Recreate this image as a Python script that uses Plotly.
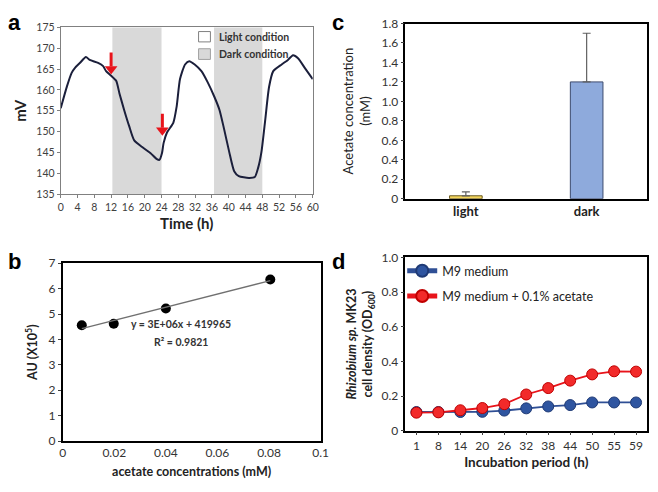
import plotly.graph_objects as go
import numpy as np

# ---------- Data ----------
# Panel a: redox potential over time
time_h = [0, 1.5, 2.6, 3.4, 4.6, 6.0, 6.9, 8.9, 10.1, 10.8, 12, 13.2, 14, 15.1, 16.3, 17.5,
          19.4, 21.4, 22.9, 23.5, 24.1, 24.5, 25.3, 26.8, 27.6, 28.4, 29.6, 30.6, 31.9,
          33.5, 35, 36.6, 37.8, 38.9, 40.1, 41.3, 42.4, 44.8, 46.2, 47, 47.8, 48.7, 49.6,
          50.6, 52.6, 54.1, 55.3, 56.5, 58.1, 60]
mv = [155.6, 160.9, 164.1, 165.3, 166.5, 167.9, 167.2, 166.5, 165.7, 164.5, 163.4, 162.2,
      159.1, 155.2, 151.3, 147.9, 146.3, 144.8, 143.4, 143.2, 144.8, 147.3, 149.8, 152.1,
      156.0, 162.6, 166.1, 166.9, 166.1, 164.5, 161.8, 158.3, 155.2, 150.6, 145.2, 140.5,
      139.3, 138.9, 139.1, 141.3, 145.2, 152.9, 160.7, 164.5, 166.1, 167.2, 168.3, 167.6,
      165.3, 162.6]
dark_periods = [(12.3, 24.0), (36.5, 48.0)]
arrow_times = [12.0, 24.2]
arrow_tips = [164.0, 149.3]
arrow_len = 5.0

# Panel b: calibration
conc_mM = [0.0074, 0.0198, 0.040, 0.0805]
au_1e5 = [4.56, 4.62, 5.22, 6.36]

# Panel c: acetate concentration
cond = ["light", "dark"]
acetate = [0.03, 1.20]
acetate_err = [0.04, 0.50]

# Panel d: growth
period = ["1", "8", "14", "20", "26", "32", "38", "44", "50", "55", "59"]
m9 = [0.108, 0.108, 0.108, 0.109, 0.116, 0.129, 0.140, 0.148, 0.163, 0.163, 0.163]
m9_err = [0.003, 0.003, 0.003, 0.003, 0.004, 0.004, 0.005, 0.005, 0.005, 0.005, 0.005]
m9ac = [0.104, 0.106, 0.118, 0.131, 0.153, 0.209, 0.246, 0.289, 0.325, 0.343, 0.341]
m9ac_err = [0.003, 0.003, 0.005, 0.005, 0.006, 0.008, 0.025, 0.012, 0.008, 0.008, 0.008]

FONT = "Lato"
W, H = 658, 492

def dx(p): return p / W
def dy(p): return 1 - p / H

fig = go.Figure()

# ---- Panel a ----
fig.add_trace(go.Scatter(x=time_h, y=mv, mode="lines", line=dict(color="#1b1f3b", width=2, shape="spline", smoothing=0.6),
                         xaxis="x", yaxis="y", showlegend=False, hoverinfo="skip"))
# red arrows: shafts + heads
for t, tip in zip(arrow_times, arrow_tips):
    fig.add_trace(go.Scatter(x=[t, t], y=[tip + arrow_len, tip + 1.6], mode="lines",
                             line=dict(color="#e8141b", width=3), xaxis="x", yaxis="y",
                             showlegend=False, hoverinfo="skip"))
fig.add_trace(go.Scatter(x=arrow_times, y=[v + 1.0 for v in arrow_tips], mode="markers",
                         marker=dict(symbol="triangle-down", size=11, color="#e8141b"),
                         xaxis="x", yaxis="y", showlegend=False, hoverinfo="skip"))

shapes = []
for s, e in dark_periods:
    shapes.append(dict(type="rect", xref="x", yref="y domain", x0=s, x1=e, y0=0, y1=1,
                       fillcolor="#d9d9d9", line=dict(width=0), layer="below"))
# legend boxes panel a
shapes.append(dict(type="rect", xref="x domain", yref="y domain", x0=0.547, x1=0.594, y0=0.975, y1=0.913,
                   fillcolor="white", line=dict(color="#808080", width=1)))
shapes.append(dict(type="rect", xref="x domain", yref="y domain", x0=0.547, x1=0.594, y0=0.872, y1=0.808,
                   fillcolor="#d9d9d9", line=dict(color="#a0a0a0", width=1)))

annotations = []
annotations.append(dict(xref="x domain", yref="y domain", x=0.62, y=0.944, yanchor="middle", text="<b>Light condition</b>",
                        showarrow=False, xanchor="left", font=dict(family=FONT, size=10.5, color="#333")))
annotations.append(dict(xref="x domain", yref="y domain", x=0.62, y=0.840, yanchor="middle", text="<b>Dark condition</b>",
                        showarrow=False, xanchor="left", font=dict(family=FONT, size=10.5, color="#333")))

# ---- Panel b ----
fig.add_trace(go.Scatter(x=conc_mM, y=au_1e5, mode="markers", marker=dict(color="black", size=10),
                         xaxis="x2", yaxis="y2", showlegend=False))
slope, icpt = np.polyfit(conc_mM, au_1e5, 1)
fx = [conc_mM[0], conc_mM[-1]]
fig.add_trace(go.Scatter(x=fx, y=[slope * v + icpt for v in fx], mode="lines",
                         line=dict(color="#707070", width=1.3), xaxis="x2", yaxis="y2", showlegend=False))
annotations.append(dict(xref="x2", yref="y2", x=0.046, y=4.6, text="<b>y = 3E+06x + 419965</b>",
                        showarrow=False, font=dict(family=FONT, size=10.5, color="#333")))
annotations.append(dict(xref="x2", yref="y2", x=0.046, y=3.92, text="<b>R² = 0.9821</b>",
                        showarrow=False, font=dict(family=FONT, size=10.5, color="#333")))

# ---- Panel c ----
fig.add_trace(go.Bar(x=cond, y=acetate, width=0.27,
                     marker=dict(color=["#f3d55b", "#8eaadc"], line=dict(color=["#6b5a20", "#3d4b6e"], width=1)),
                     error_y=dict(type="data", array=acetate_err, arrayminus=[0, 0], symmetric=False,
                                  color="#606060", thickness=1.2, width=4),
                     xaxis="x3", yaxis="y3", showlegend=False))

# ---- Panel d ----
fig.add_trace(go.Scatter(x=period, y=m9, mode="lines+markers", name="M9 medium", legendgroup="a",
                         line=dict(color="#2f4f95", width=1.8),
                         marker=dict(color="#2f55a0", size=11, line=dict(color="#1f3a75", width=1)),
                         error_y=dict(type="data", array=m9_err, color="#8090b0", thickness=1, width=2),
                         xaxis="x4", yaxis="y4"))
fig.add_trace(go.Scatter(x=period, y=m9ac, mode="lines+markers", name="M9 medium + 0.1% acetate", legendgroup="b",
                         line=dict(color="#e8141b", width=1.8),
                         marker=dict(color="#f22a2a", size=11, line=dict(color="#c00000", width=1)),
                         error_y=dict(type="data", array=m9ac_err, color="#a08080", thickness=1, width=2),
                         xaxis="x4", yaxis="y4"))

# panel letters
for txt, x, y in [("a", 3, 0), ("b", 3, 246), ("c", 333, 0), ("d", 333, 246)]:
    annotations.append(dict(xref="paper", yref="paper", x=dx(x), y=dy(y), xanchor="left", yanchor="top",
                            text=f"<b>{txt}</b>", showarrow=False,
                            font=dict(family="Liberation Sans", size=22, color="black")))

tickfont = dict(family=FONT, size=10.5, color="#404040")
tickfont2 = dict(family=FONT, size=12, color="#333")
titlefont = dict(family=FONT, size=15, color="#222")

fig.update_layout(
    width=W, height=H, margin=dict(l=0, r=0, t=0, b=0),
    paper_bgcolor="white", plot_bgcolor="white",
    shapes=shapes, annotations=annotations,
    xaxis=dict(domain=[dx(58.7), dx(315)], range=[0, 60], tickvals=list(range(0, 61, 4)),
               ticks="outside", ticklen=3, tickcolor="#808080", showgrid=False, zeroline=False,
               showline=True, linecolor="#808080", linewidth=1, mirror=True, tickfont=tickfont,
               title=dict(text="<b>Time (h)</b>", font=titlefont, standoff=6), anchor="y"),
    yaxis=dict(domain=[dy(192), dy(20)], range=[135, 175], tickvals=list(range(135, 176, 5)),
               ticks="outside", ticklen=3, tickcolor="#808080", showgrid=False, zeroline=False,
               showline=True, linecolor="#808080", linewidth=1, mirror=True, tickfont=tickfont,
               title=dict(text="<b>mV</b>", font=titlefont, standoff=6), anchor="x"),
    xaxis2=dict(domain=[dx(60.7), dx(323)], range=[0, 0.1], tickvals=[0, 0.02, 0.04, 0.06, 0.08, 0.1],
                ticktext=["0", "0.02", "0.04", "0.06", "0.08", "0.1"],
                ticks="", showgrid=False, zeroline=False, showline=True, linecolor="black", linewidth=1.5,
                mirror=True, tickfont=tickfont2,
                title=dict(text="<b>acetate concentrations (mM)</b>", font=dict(family=FONT, size=12.5, color="#222"), standoff=8),
                anchor="y2"),
    yaxis2=dict(domain=[dy(446.7), dy(263.3)], range=[0, 7], tickvals=list(range(0, 8)),
                ticks="outside", ticklen=3, tickcolor="#404040", showgrid=False, zeroline=False,
                showline=True, linecolor="black", linewidth=1.5, mirror=True, tickfont=tickfont2,
                title=dict(text="<b>AU (X10<sup>5</sup>)</b>", font=dict(family=FONT, size=12.5, color="#222"), standoff=8),
                anchor="x2"),
    xaxis3=dict(domain=[dx(409.3), dx(655)], range=[-0.5, 1.5], ticks="", showgrid=False, zeroline=False,
                showline=True, linecolor="black", linewidth=1.5, mirror=True,
                tickfont=dict(family=FONT, size=13, color="#222"),
                tickvals=cond, ticktext=["<b>light</b>", "<b>dark</b>"], anchor="y3"),
    yaxis3=dict(domain=[dy(196.7), dy(16)], range=[0, 1.8], tickvals=[0, 0.2, 0.4, 0.6, 0.8, 1.0, 1.2, 1.4, 1.6, 1.8],
                ticktext=["0", "0.2", "0.4", "0.6", "0.8", "1.0", "1.2", "1.4", "1.6", "1.8"],
                ticks="outside", ticklen=3, tickcolor="#404040", showgrid=False, zeroline=False,
                showline=True, linecolor="black", linewidth=1.5, mirror=True, tickfont=tickfont2,
                title=dict(text="Acetate concentration<br>(mM)", font=dict(family=FONT, size=13, color="#222"), standoff=8),
                anchor="x3"),
    xaxis4=dict(domain=[dx(409.3), dx(655)], range=[-0.5, 10.5], type="category",
                ticks="outside", ticklen=3, tickcolor="#404040", showgrid=False, zeroline=False,
                showline=True, linecolor="black", linewidth=1.5, mirror=True, tickfont=tickfont2,
                title=dict(text="<b>Incubation period (h)</b>", font=dict(family=FONT, size=13.5, color="#222"), standoff=6),
                anchor="y4"),
    yaxis4=dict(domain=[dy(436), dy(257.3)], range=[0, 1.0], tickvals=[0, 0.2, 0.4, 0.6, 0.8, 1.0],
                ticktext=["0", "0.2", "0.4", "0.6", "0.8", "1.0"],
                ticks="outside", ticklen=3, tickcolor="#404040", showgrid=False, zeroline=False,
                showline=True, linecolor="black", linewidth=1.5, mirror=True, tickfont=tickfont2,
                title=dict(text="<b><i>Rhizobium sp.</i> MK23<br>cell density (OD<sub>600</sub>)</b>",
                           font=dict(family=FONT, size=12.5, color="#222"), standoff=6),
                anchor="x4"),
    legend=dict(x=dx(406), y=dy(256), xanchor="left", yanchor="top", bgcolor="rgba(0,0,0,0)",
                font=dict(family=FONT, size=12.5, color="#222"), traceorder="grouped", tracegroupgap=6,
                itemsizing="constant"),
)

fig.write_html("out.html", config={"displayModeBar": False},
               post_script="document.body.style.margin='0';document.body.style.overflow='hidden';")
